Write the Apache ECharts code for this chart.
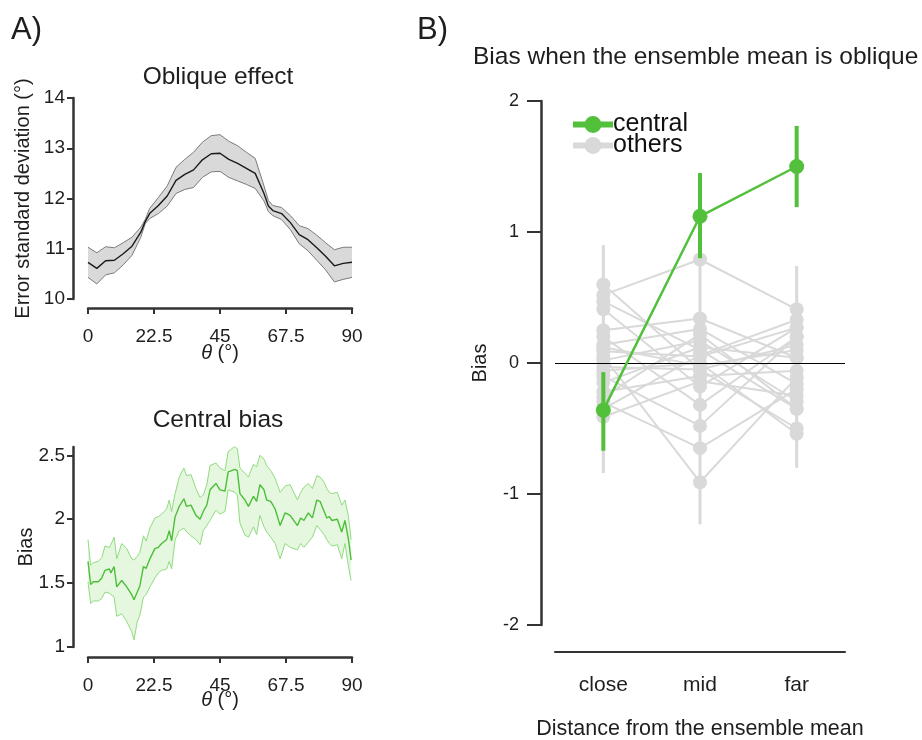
<!DOCTYPE html>
<html>
<head>
<meta charset="utf-8">
<script src="https://cdn.jsdelivr.net/npm/echarts@6/dist/echarts.min.js"></script>
<style>
  html, body { margin: 0; padding: 0; background: #fff; }
  #chart { width: 922px; height: 740px; }
</style>
</head>
<body>
<div id="chart"></div>
<script>
// A) top: error SD across orientation
const obliqueTheta = [0, 3, 6, 9, 12, 15, 18, 19.5, 21, 24, 27, 30, 33, 36, 39, 42, 45, 48, 51, 54, 57, 60, 61.5, 63, 66, 69, 72, 75, 78, 81, 84, 87, 90];
const obliqueMean = [10.73, 10.61, 10.76, 10.77, 10.90, 11.05, 11.33, 11.54, 11.70, 11.86, 12.05, 12.36, 12.48, 12.57, 12.77, 12.89, 12.90, 12.78, 12.70, 12.60, 12.50, 12.10, 11.85, 11.76, 11.70, 11.52, 11.28, 11.18, 11.02, 10.85, 10.66, 10.71, 10.73];
const obliqueUpper = [11.03, 10.92, 11.04, 11.02, 11.12, 11.23, 11.43, 11.58, 11.80, 12.02, 12.25, 12.62, 12.78, 12.92, 13.12, 13.25, 13.27, 13.14, 13.05, 12.92, 12.80, 12.25, 11.96, 11.86, 11.82, 11.66, 11.46, 11.40, 11.27, 11.12, 10.98, 11.03, 11.03];
const obliqueLower = [10.43, 10.30, 10.48, 10.52, 10.68, 10.87, 11.23, 11.50, 11.60, 11.70, 11.85, 12.10, 12.18, 12.22, 12.42, 12.53, 12.54, 12.42, 12.35, 12.28, 12.20, 11.95, 11.74, 11.66, 11.58, 11.38, 11.10, 10.96, 10.77, 10.58, 10.34, 10.39, 10.43];
const thetaTicks = [0, 22.5, 45, 67.5, 90];

// A) bottom: central bias across orientation
const centralTheta = [0, 0.9, 1.8, 3.5, 4.7, 5.8, 7.3, 7.8, 8.9, 9.8, 11.5, 13.2, 14.9, 15.7, 16.8, 17.7, 18.9, 19.8, 21.1, 22.8, 24, 25.1, 26.8, 27.7, 28.5, 29.7, 31.1, 32.7, 33.6, 35.1, 36.8, 38.2, 39.3, 40.5, 41.6, 43.6, 45, 46.7, 47.8, 50.1, 50.9, 51.8, 53.5, 54.7, 56.4, 57.5, 58.6, 60, 60.9, 62.3, 63.8, 65.5, 67.2, 68.9, 71.4, 72.5, 73.6, 75.1, 76.5, 78, 79.1, 80.5, 81.4, 82.3, 83.1, 85, 86.5, 87.6, 88.8, 89.7];
const centralMean = [1.67, 1.49, 1.51, 1.51, 1.54, 1.60, 1.61, 1.58, 1.63, 1.47, 1.52, 1.47, 1.41, 1.37, 1.43, 1.48, 1.63, 1.615, 1.69, 1.77, 1.78, 1.81, 1.84, 1.91, 1.83, 2.02, 2.10, 2.16, 2.10, 2.11, 2.03, 2.00, 2.06, 2.11, 2.23, 2.28, 2.23, 2.22, 2.37, 2.39, 2.38, 2.20, 2.15, 2.10, 2.18, 2.14, 2.27, 2.23, 2.15, 2.14, 2.08, 1.95, 2.05, 2.03, 1.95, 2.01, 1.99, 2.05, 2.01, 2.15, 2.14, 2.06, 2.01, 2.02, 1.99, 2.00, 1.90, 1.99, 1.84, 1.68];
const centralUpper = [1.84, 1.64, 1.66, 1.67, 1.70, 1.79, 1.78, 1.80, 1.86, 1.69, 1.81, 1.77, 1.69, 1.68, 1.71, 1.74, 1.87, 1.83, 1.93, 2.01, 2.02, 2.04, 2.08, 2.15, 2.06, 2.20, 2.33, 2.40, 2.34, 2.35, 2.24, 2.17, 2.19, 2.27, 2.42, 2.44, 2.40, 2.38, 2.53, 2.57, 2.55, 2.40, 2.36, 2.33, 2.43, 2.41, 2.50, 2.47, 2.42, 2.38, 2.32, 2.21, 2.26, 2.27, 2.15, 2.21, 2.25, 2.28, 2.24, 2.34, 2.33, 2.29, 2.24, 2.21, 2.20, 2.21, 2.11, 2.15, 2.02, 1.84];
const centralLower = [1.51, 1.34, 1.36, 1.36, 1.38, 1.43, 1.42, 1.41, 1.39, 1.24, 1.26, 1.20, 1.12, 1.055, 1.20, 1.25, 1.39, 1.41, 1.47, 1.54, 1.58, 1.60, 1.61, 1.67, 1.61, 1.84, 1.91, 1.93, 1.90, 1.87, 1.84, 1.80, 1.91, 1.95, 1.99, 2.07, 2.04, 2.06, 2.23, 2.21, 2.19, 1.97, 1.875, 1.86, 1.94, 1.88, 2.03, 1.94, 1.90, 1.86, 1.81, 1.69, 1.81, 1.78, 1.76, 1.81, 1.78, 1.82, 1.86, 1.95, 1.92, 1.88, 1.84, 1.81, 1.79, 1.80, 1.69, 1.81, 1.63, 1.52];
const centralBiasTicks = [1, 1.5, 2, 2.5];

// B) bias vs distance from ensemble mean
const distanceCats = ['close', 'mid', 'far'];
const centralBias = [-0.36, 1.12, 1.50];
const centralErrLow = [-0.67, 0.80, 1.19];
const centralErrHigh = [-0.07, 1.45, 1.81];
const othersClose = [0.60, 0.52, 0.47, 0.41, 0.25, 0.20, 0.14, 0.09, 0.05, 0.02, -0.03, -0.06, -0.10, -0.15, -0.22, -0.26, -0.30, -0.35, -0.41, 0.12];
const othersMid = [-0.05, 0.79, 0.10, -0.18, 0.34, -0.32, 0.26, 0.05, -0.91, 0.17, -0.05, 0.00, -0.48, 0.12, -0.10, 0.22, -0.65, 0.06, -0.14, -0.02];
const othersFar = [-0.50, 0.41, -0.35, 0.27, 0.04, 0.20, -0.16, 0.27, -0.11, -0.29, 0.14, -0.54, 0.20, 0.04, -0.06, -0.35, -0.20, 0.33, -0.25, 0.10];
const othersErrLow = [-0.84, -1.23, -0.80];
const othersErrHigh = [0.90, 1.10, 0.74];

const FONT = "'Liberation Sans', Arial, sans-serif";
const AXIS = '#333';
const TXT = '#1e1e1e';
const GREEN = '#52c03b';
const GREY = '#d9d9d9';

const chart = echarts.init(document.getElementById('chart'), null, { renderer: 'canvas' });

function pairs(xs, ys) {
  return xs.map((x, i) => [x, ys[i]]);
}

function band(idx, theta, lower, upper, fill) {
  return {
    type: 'custom', xAxisIndex: idx, yAxisIndex: idx, silent: true, z: 1,
    data: [[theta[0], lower[0]]],
    renderItem: (params, api) => {
      const pts = [];
      for (let i = 0; i < theta.length; i++) pts.push(api.coord([theta[i], upper[i]]));
      for (let i = theta.length - 1; i >= 0; i--) pts.push(api.coord([theta[i], lower[i]]));
      return { type: 'polygon', shape: { points: pts }, style: { fill: fill } };
    }
  };
}

function thinLine(idx, data, color, width, z) {
  return {
    type: 'line', xAxisIndex: idx, yAxisIndex: idx, data: data, showSymbol: false,
    silent: true, z: z, lineStyle: { color: color, width: width }, itemStyle: { color: color }
  };
}

function errBars(cats, low, high, color, width, z) {
  return {
    type: 'custom', xAxisIndex: 2, yAxisIndex: 2, silent: true, z: z,
    data: cats.map((c, i) => [i, low[i], high[i]]),
    encode: { x: 0, y: [1, 2] },
    renderItem: (params, api) => {
      const a = api.coord([api.value(0), api.value(1)]);
      const b = api.coord([api.value(0), api.value(2)]);
      return {
        type: 'line', shape: { x1: a[0], y1: a[1], x2: b[0], y2: b[1] },
        style: { stroke: color, lineWidth: width }
      };
    }
  };
}

function thetaAxis(idx, offset, gap) {
  return {
    type: 'value', gridIndex: idx, min: 0, max: 90, interval: 22.5, offset: offset,
    axisLine: { show: true, onZero: false, lineStyle: { color: AXIS, width: 2.5 } },
    axisTick: { show: true, length: 6, lineStyle: { color: AXIS, width: 2 } },
    axisLabel: { fontSize: 19, color: TXT, fontFamily: FONT, margin: 19 },
    splitLine: { show: false },
    name: '{t|θ} (°)', nameLocation: 'middle', nameGap: gap, nameMoveOverlap: false,
    nameTextStyle: { fontSize: 20, color: TXT, fontFamily: FONT,
      rich: { t: { fontStyle: 'italic', fontSize: 20, color: TXT, fontFamily: FONT } } }
  };
}

function valueAxis(idx, extra, name, gap, tickLen, labelFont, labelMargin) {
  return Object.assign({
    type: 'value', gridIndex: idx, offset: 15,
    axisLine: { show: true, onZero: false, lineStyle: { color: AXIS, width: 2.5 } },
    axisTick: { show: true, length: tickLen, lineStyle: { color: AXIS, width: 2 } },
    axisLabel: { fontSize: labelFont, color: TXT, fontFamily: FONT, margin: labelMargin },
    splitLine: { show: false },
    name: name, nameLocation: 'middle', nameGap: gap, nameMoveOverlap: false,
    nameTextStyle: { fontSize: 20, color: TXT, fontFamily: FONT }
  }, extra);
}

const othersSeries = othersClose.map((v, i) => ({
  type: 'line', name: 'others', xAxisIndex: 2, yAxisIndex: 2, z: 3,
  data: [othersClose[i], othersMid[i], othersFar[i]],
  symbol: 'circle', symbolSize: 14, showAllSymbol: true, silent: true,
  lineStyle: { color: GREY, width: 2 }, itemStyle: { color: GREY }
}));

const yA1 = valueAxis(1, { min: 1, max: 2.565 }, 'Bias', 37, 6, 19, 8);
yA1.axisTick.customValues = centralBiasTicks;
yA1.axisLabel.customValues = centralBiasTicks;

const option = {
  animation: false,
  textStyle: { fontFamily: FONT },
  title: [
    { text: 'A)', left: 11, top: 15, padding: 0, textStyle: { fontSize: 31, fontWeight: 'normal', color: TXT } },
    { text: 'B)', left: 417, top: 15, padding: 0, textStyle: { fontSize: 31, fontWeight: 'normal', color: TXT } },
    { text: 'Oblique effect', left: 218, top: 65, padding: 0, textAlign: 'center', textStyle: { fontSize: 24.5, fontWeight: 'normal', color: TXT } },
    { text: 'Central bias', left: 218, top: 408, padding: 0, textAlign: 'center', textStyle: { fontSize: 24.5, fontWeight: 'normal', color: TXT } },
    { text: 'Bias when the ensemble mean is oblique', left: 473, top: 45, padding: 0, textStyle: { fontSize: 24.5, fontWeight: 'normal', color: TXT } }
  ],
  legend: {
    data: ['central', 'others'], orient: 'vertical', left: 570, top: 112, padding: 0,
    itemWidth: 40, itemHeight: 21, itemGap: -4,
    textStyle: { fontSize: 25, color: '#111', fontFamily: FONT, lineHeight: 21, padding: [2, 0, 0, -5] },
    lineStyle: { width: 6 }
  },
  grid: [
    { left: 88, top: 98, width: 264, height: 201, outerBoundsMode: 'none' },
    { left: 88, top: 447, width: 264, height: 200, outerBoundsMode: 'none' },
    { left: 555, top: 101, width: 290, height: 524, outerBoundsMode: 'none' }
  ],
  xAxis: [
    thetaAxis(0, 9, 35),
    thetaAxis(1, 10, 33),
    {
      type: 'category', gridIndex: 2, data: distanceCats, offset: 27,
      axisLine: { show: true, onZero: false, lineStyle: { color: AXIS, width: 2 } },
      axisTick: { show: false },
      axisLabel: { fontSize: 21, color: TXT, fontFamily: FONT, margin: 23 },
      name: 'Distance from the ensemble mean', nameLocation: 'middle', nameGap: 66, nameMoveOverlap: false,
      nameTextStyle: { fontSize: 21.5, color: TXT, fontFamily: FONT }
    }
  ],
  yAxis: [
    valueAxis(0, { min: 10, max: 14, interval: 1 }, 'Error standard deviation (°)', 40, 6, 19, 8),
    yA1,
    valueAxis(2, { min: -2, max: 2, interval: 1, offset: 14 }, 'Bias', 51, 14, 18, 22)
  ],
  series: [
    band(0, obliqueTheta, obliqueLower, obliqueUpper, '#d9d9d9'),
    thinLine(0, pairs(obliqueTheta, obliqueUpper), '#7a7a7a', 1, 2),
    thinLine(0, pairs(obliqueTheta, obliqueLower), '#7a7a7a', 1, 2),
    thinLine(0, pairs(obliqueTheta, obliqueMean), '#1a1a1a', 1.4, 3),

    band(1, centralTheta, centralLower, centralUpper, '#e6f7e0'),
    thinLine(1, pairs(centralTheta, centralUpper), '#8fdb7f', 1, 2),
    thinLine(1, pairs(centralTheta, centralLower), '#8fdb7f', 1, 2),
    thinLine(1, pairs(centralTheta, centralMean), '#4cbf38', 1.4, 3),

    errBars(distanceCats, othersErrLow, othersErrHigh, GREY, 3, 2),
    ...othersSeries,
    errBars(distanceCats, centralErrLow, centralErrHigh, GREEN, 4, 5),
    {
      type: 'line', name: 'central', xAxisIndex: 2, yAxisIndex: 2, z: 6,
      data: centralBias, symbol: 'circle', symbolSize: 15, silent: true,
      lineStyle: { color: GREEN, width: 2.5 }, itemStyle: { color: GREEN },
      markLine: {
        silent: true, symbol: 'none', label: { show: false },
        lineStyle: { color: '#000', width: 1, type: 'solid' },
        data: [{ yAxis: 0 }]
      }
    }
  ]
};

chart.setOption(option);
</script>
</body>
</html>
